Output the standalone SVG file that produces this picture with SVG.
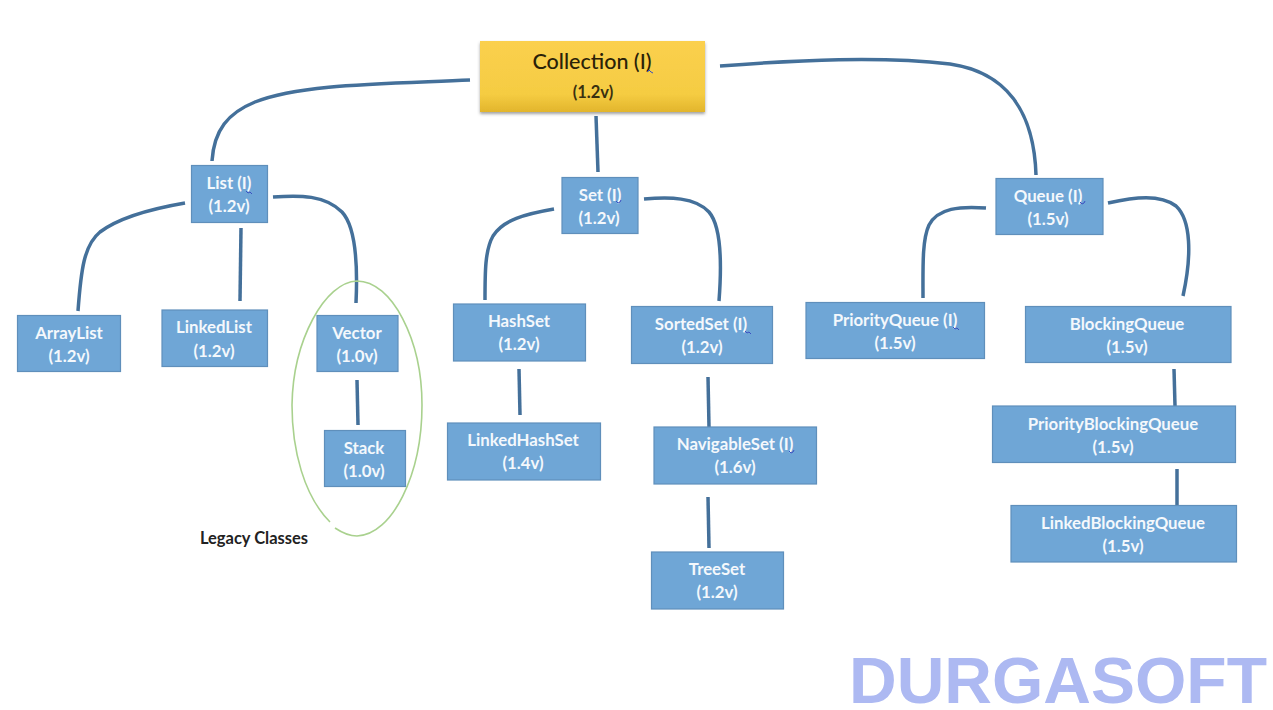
<svg xmlns="http://www.w3.org/2000/svg" width="1273" height="710" viewBox="0 0 1273 710">
<style>
.n{fill:#6fa6d6;stroke:#5f8fbb;stroke-width:1.2}
.t{font-family:Lato,"Open Sans",sans-serif;font-weight:700;font-size:16.800px;fill:#f4f8fc;text-anchor:middle}
.c{fill:none;stroke:#44709a;stroke-width:3.500;stroke-linecap:butt}
.sq{fill:none;stroke:#3a4fc0;stroke-width:1}
</style>
<defs>
<linearGradient id="g" x1="0" y1="0" x2="0" y2="1"><stop offset="0" stop-color="#fbd04e"/><stop offset=".75" stop-color="#f5cc42"/><stop offset="1" stop-color="#e2b52c"/></linearGradient>
<filter id="s" x="-5%" y="-10%" width="110%" height="125%"><feDropShadow dx="0" dy="2" stdDeviation="1.5" flood-color="#555" flood-opacity=".55"/></filter>
</defs>
<rect width="1273" height="710" fill="#fff"/>
<g id="connectors">
<path class="c" d="M470 80C380 84 300 84 255 102C228 113 214 130 212 161"/>
<path class="c" d="M720 66C800 60 880 56 950 64C1005 72 1034 110 1036 175"/>
<path class="c" d="M596 116L598 172"/>
<path class="c" d="M185 203C150 209 120 217 100 232C84 245 81 270 78 311"/>
<path class="c" d="M241 228L240 301"/>
<path class="c" d="M273 197C300 195 325 195 342 212C355 226 358 260 356 303"/>
<path class="c" d="M357 380L358 425"/>
<path class="c" d="M554 209C525 214 503 220 493 236C485 250 485 272 485 300"/>
<path class="c" d="M644 199C670 197 695 197 709 212C721 226 722 262 719 301"/>
<path class="c" d="M519 369L520 415"/>
<path class="c" d="M708 377L709 427"/>
<path class="c" d="M708 497L709 548"/>
<path class="c" d="M986 208C960 206 938 208 929 225C922 240 923 268 923 298"/>
<path class="c" d="M1108 203C1135 197 1160 194 1176 206C1191 220 1192 255 1183 296"/>
<path class="c" d="M1174 369L1175 406"/>
<path class="c" d="M1177 469L1177 505"/>
</g>
<g id="legacy-ellipse">
<path d="M330 522C304 496 292 450 292 405C293 340 325 282 357 281C392 281 422 340 422 405C422 475 392 535 357 536C349 536 341 532 335 528" fill="none" stroke="#a9d18e" stroke-width="1.6"/>
</g>
<g id="collection">
<rect x="480" y="41" width="225" height="71" fill="url(#g)" filter="url(#s)"/>
<text x="592" y="69" text-anchor="middle" font-family="Lato,'Open Sans',sans-serif" font-size="21.500" font-weight="500" fill="#2a2208">Collection (I)</text>
<text x="593" y="98" text-anchor="middle" font-family="Lato,'Open Sans',sans-serif" font-size="16.500" font-weight="700" fill="#3a3010">(1.2v)</text>
<path class="sq" d="M647 72l2-2 2 2 2 1"/>
</g>
<g id="list"><rect class="n" x="191.500" y="165.500" width="76" height="57"/><text class="t" x="229" y="189">List (I)</text><text class="t" x="229" y="212">(1.2v)</text><path class="sq" d="M246 191l2 2 2-1 2 2"/></g>
<g id="set"><rect class="n" x="562" y="177.500" width="76" height="56"/><text class="t" x="600" y="201">Set (I)</text><text class="t" x="599" y="224">(1.2v)</text><path class="sq" d="M616 201l2 2 2-1 1-2"/></g>
<g id="queue"><rect class="n" x="996" y="178.500" width="107" height="56"/><text class="t" x="1048" y="202">Queue (I)</text><text class="t" x="1048" y="225">(1.5v)</text><path class="sq" d="M1080 202l2 2 2-1 1-2"/></g>
<g id="arraylist"><rect class="n" x="17.500" y="315.500" width="103" height="56"/><text class="t" x="69" y="339">ArrayList</text><text class="t" x="69" y="362">(1.2v)</text></g>
<g id="linkedlist"><rect class="n" x="162" y="310" width="105.500" height="56.500"/><text class="t" x="214" y="333">LinkedList</text><text class="t" x="214" y="357">(1.2v)</text></g>
<g id="vector"><rect class="n" x="317" y="315.500" width="81" height="56"/><text class="t" x="357" y="339">Vector</text><text class="t" x="357" y="362">(1.0v)</text></g>
<g id="stack"><rect class="n" x="324.500" y="430.500" width="81" height="56"/><text class="t" x="364" y="454">Stack</text><text class="t" x="364" y="477">(1.0v)</text></g>
<g id="hashset"><rect class="n" x="453.500" y="304" width="132" height="57"/><text class="t" x="519" y="327">HashSet</text><text class="t" x="519" y="350">(1.2v)</text></g>
<g id="sortedset"><rect class="n" x="631.500" y="306.500" width="141" height="57"/><text class="t" x="701" y="330">SortedSet (I)</text><text class="t" x="702" y="353">(1.2v)</text><path class="sq" d="M745 331l2 2 2-1 2 2"/></g>
<g id="linkedhashset"><rect class="n" x="447.500" y="423" width="153" height="57"/><text class="t" x="523" y="446">LinkedHashSet</text><text class="t" x="523" y="469">(1.4v)</text></g>
<g id="navigableset"><rect class="n" x="654" y="427" width="162.500" height="57"/><text class="t" x="735" y="450">NavigableSet (I)</text><text class="t" x="735" y="473">(1.6v)</text><path class="sq" d="M789 451l2 2 2-1 1-2"/></g>
<g id="treeset"><rect class="n" x="651.500" y="552" width="132" height="57"/><text class="t" x="717" y="575">TreeSet</text><text class="t" x="717" y="598">(1.2v)</text></g>
<g id="priorityqueue"><rect class="n" x="806" y="302.500" width="178.500" height="56"/><text class="t" x="895" y="326">PriorityQueue (I)</text><text class="t" x="895" y="349">(1.5v)</text><path class="sq" d="M953 327l2 2 2-1 2 2"/></g>
<g id="blockingqueue"><rect class="n" x="1025.500" y="306.500" width="205.500" height="56"/><text class="t" x="1127" y="330">BlockingQueue</text><text class="t" x="1127" y="353">(1.5v)</text></g>
<g id="priorityblockingqueue"><rect class="n" x="992.500" y="406" width="243" height="56.500"/><text class="t" x="1113" y="430">PriorityBlockingQueue</text><text class="t" x="1113" y="453">(1.5v)</text></g>
<g id="linkedblockingqueue"><rect class="n" x="1011" y="505.500" width="225.500" height="56.500"/><text class="t" x="1123" y="529">LinkedBlockingQueue</text><text class="t" x="1123" y="552">(1.5v)</text></g>
<text x="254" y="544" text-anchor="middle" font-family="Lato,'Open Sans',sans-serif" font-size="16.500" font-weight="700" fill="#222">Legacy Classes</text>
<text x="1058" y="703" text-anchor="middle" font-family="'Liberation Sans',Arial,sans-serif" font-size="65" font-weight="700" fill="#adb9f2" textLength="418" lengthAdjust="spacingAndGlyphs">DURGASOFT</text>
</svg>
